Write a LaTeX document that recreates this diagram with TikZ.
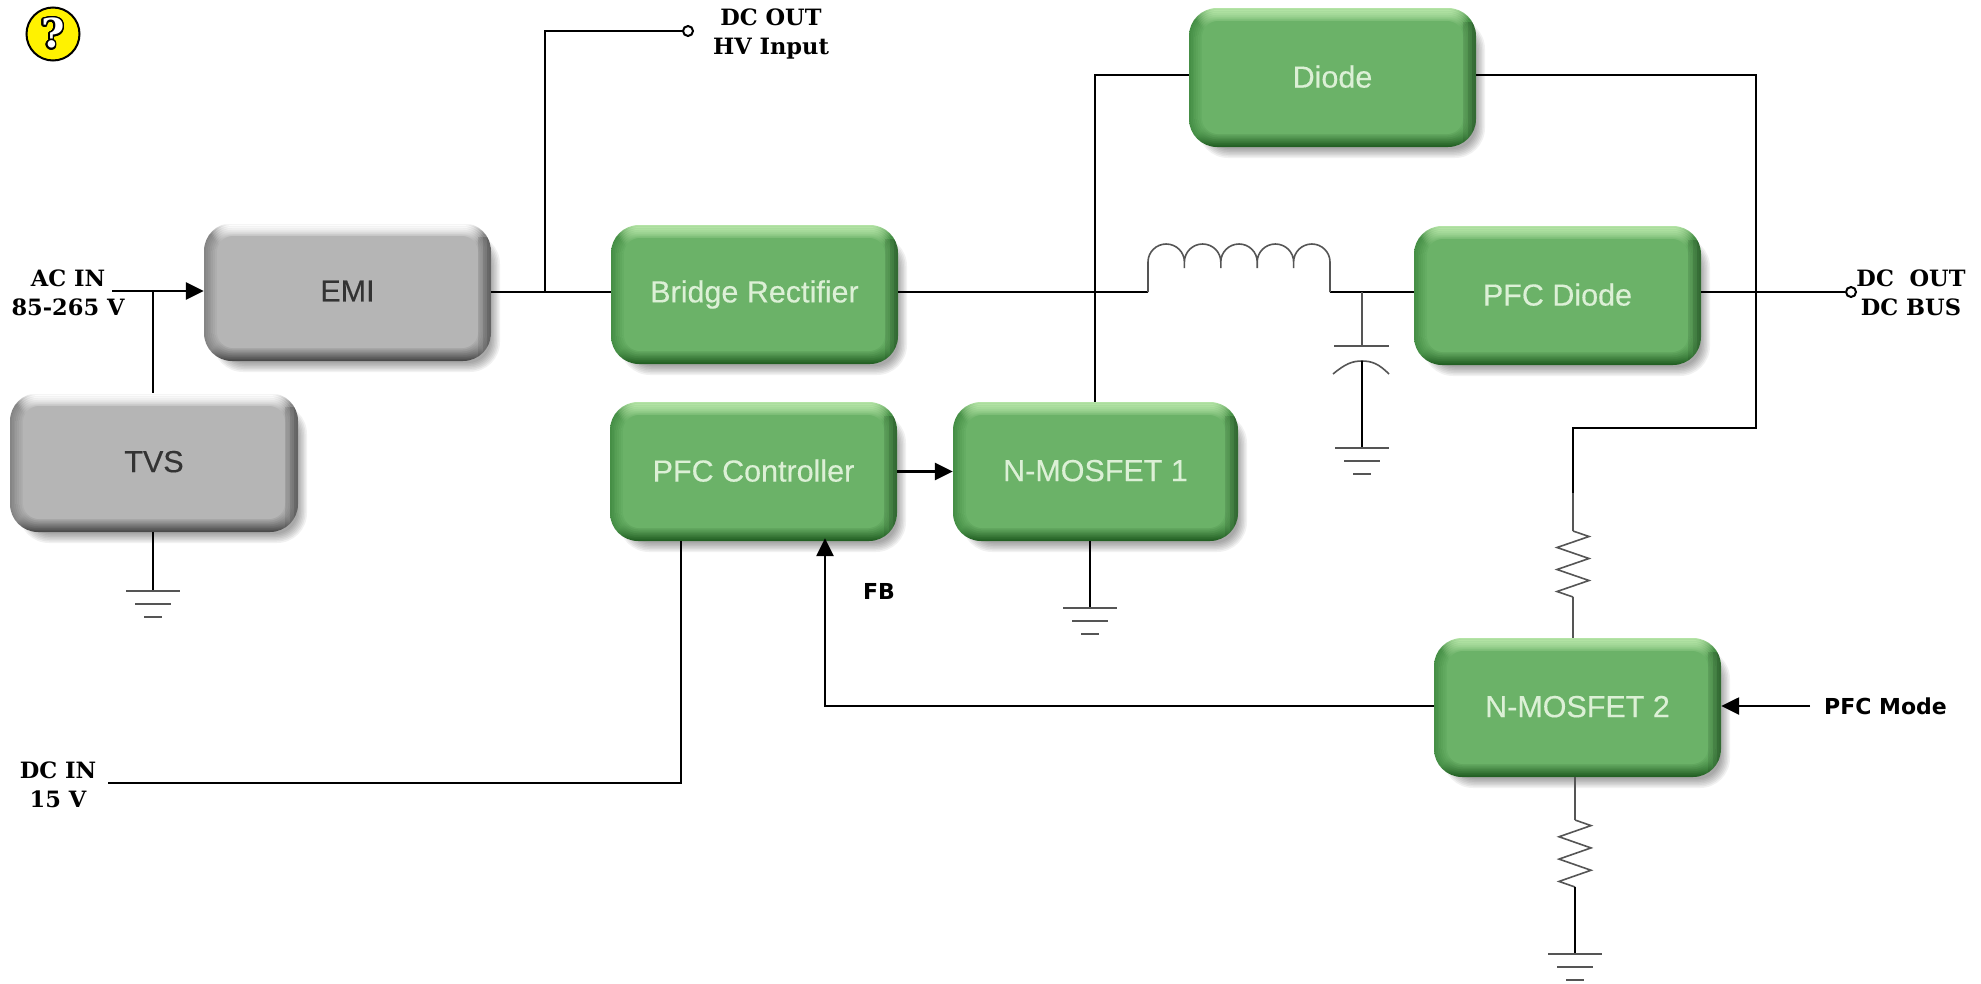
\documentclass[tikz,border=0pt]{standalone}
\usepackage{fontspec}
\setmainfont{Liberation Sans}[FakeBold=0.35]
\newfontfamily\serifb{DejaVu Serif}[BoldFont={DejaVu Serif Bold}]
\newfontfamily\sansb{DejaVu Sans}[BoldFont={DejaVu Sans Bold}]
\usepackage[copies]{contour}
\usetikzlibrary{arrows.meta,calc}
\definecolor{gFace}{HTML}{6BB268}
\definecolor{gHigh}{HTML}{B4E4A6}
\definecolor{gSide}{HTML}{468F46}
\definecolor{gBot}{HTML}{1F5A20}
\definecolor{gTxt}{HTML}{DCF0D6}
\definecolor{kFace}{HTML}{B5B5B5}
\definecolor{kHigh}{HTML}{FFFFFF}
\definecolor{kSide}{HTML}{858585}
\definecolor{kBot}{HTML}{444444}
\definecolor{kTxt}{HTML}{333333}
\definecolor{wireGrey}{HTML}{555555}
\colorlet{bevT}{white}\colorlet{bevS}{gray}\colorlet{bevB}{black}
\pgfdeclareverticalshading[bevT,bevS,bevB]{bev}{100bp}{color(0bp)=(bevB); color(25bp)=(bevB); color(29bp)=(bevS); color(71bp)=(bevS); color(75bp)=(bevT); color(100bp)=(bevT)}
\tikzset{
  boxtext/.style={inner sep=0pt,font=\fontsize{30.5}{34}\selectfont,text=txtC},
  wire/.style={draw=black,line width=2.6pt},
  thinwire/.style={draw=wireGrey,line width=1.6pt},
  arrowwire/.style={wire,-{Triangle[length=18pt,width=17pt]}},
  sidelabel/.style={inner sep=0pt,align=center,font=\serifb\bfseries\fontsize{22.5}{28.5}\selectfont,text=black},
  plainlabel/.style={inner sep=0pt,font=\sansb\bfseries\fontsize{22}{26}\selectfont,text=black},
  terminal/.style={circle,draw=black,line width=2pt,fill=white,minimum size=10pt,inner sep=0pt},
}
\newcommand{\bevbox}[7]{%
  \colorlet{faceC}{#6Face}\colorlet{highC}{#6High}\colorlet{sideC}{#6Side}\colorlet{botC}{#6Bot}\colorlet{txtC}{#6Txt}%
  \foreach \q in {0,...,6}{%
    \pgfmathsetmacro\gr{\q*1.5}\pgfmathsetmacro\rr{30-\q*1.2}%
    \fill[black,opacity=0.055,rounded corners=\rr pt] ({#2+12+\gr-3},{#3+14+\gr-3}) rectangle ({#4+9-\gr},{#5+11-\gr});
  }%
  \foreach \k in {0,...,6}{%
    \pgfmathsetmacro\ins{\k*1.9}\pgfmathsetmacro\rr{28-\k*1.7}%
    \pgfmathtruncatemacro\pa{\k*\k*100/49}\pgfmathtruncatemacro\pb{\k*100/7}%
    \colorlet{bevT}{faceC!\pa!highC}\colorlet{bevS}{faceC!\pb!sideC}\colorlet{bevB}{faceC!\pb!botC}%
    \path[shading=bev,rounded corners=\rr pt] ({#2+\ins},{#3+\ins}) rectangle ({#4-\ins},{#5-\ins});
  }%
  \begin{scope}
    \clip[rounded corners=28pt] (#2,#3) rectangle (#4,#5);
    \foreach \s in {4,8,13}{%
      \fill[black,opacity=0.09] ({#4-\s},{#3+14}) rectangle (#4,#5);
    }
  \end{scope}
  \fill[faceC,rounded corners=16pt] ({#2+13},{#3+13}) rectangle ({#4-13},{#5-13});
  \pgfmathsetmacro\bw{#4-#2}\pgfmathsetmacro\bh{#5-#3}%
  \node[boxtext,minimum width=\bw pt,minimum height=\bh pt] (#1) at ({(#2+#4)/2},{(#3+#5)/2}) {\raisebox{2pt}{#7}};
}
\newcommand{\gnd}[2]{%
  \draw[thinwire] ({#1-27},#2) -- ({#1+27},#2);
  \draw[thinwire] ({#1-18},{#2+13}) -- ({#1+18},{#2+13});
  \draw[thinwire] ({#1-9},{#2+26}) -- ({#1+9},{#2+26});
}
\newcommand{\zigzag}[3]{%
  \draw[thinwire,line join=miter] (#1,#2)
    -- ({#1+16},{#2+(#3-#2)/12}) -- ({#1-16},{#2+3*(#3-#2)/12})
    -- ({#1+16},{#2+5*(#3-#2)/12}) -- ({#1-16},{#2+7*(#3-#2)/12})
    -- ({#1+16},{#2+9*(#3-#2)/12}) -- ({#1-16},{#2+11*(#3-#2)/12})
    -- (#1,#3);
}
\begin{document}
\begin{tikzpicture}[x=1pt,y=-1pt]
\useasboundingbox (0,0) rectangle (1981,983);
\fill[white] (0,0) rectangle (1981,983);

% help icon
\node[circle,draw=black,line width=2pt,fill=yellow,minimum size=53pt,inner sep=0pt] (help) at (53,34) {};
\node[inner sep=0pt,text=white,font=\serifb\bfseries\fontsize{40}{40}\selectfont] at (help) {\contourlength{1.5pt}\contournumber{24}\contour{black}{?}};

% wires behind boxes
\coordinate (acin) at (112,291);
\coordinate (acj) at (153,291);
\coordinate (hvj) at (545,291);
\coordinate (hvk) at (545,31);
\node[terminal] (hvout) at (688,31) {};
\coordinate (dcin) at (108,783);
\coordinate (dck) at (681,783);
\node[terminal] (busout) at (1851,292) {};
\coordinate (dioL) at (1095,75);
\coordinate (dioR) at (1756,75);
\coordinate (dioR2) at (1756,428);
\coordinate (r1k) at (1573,428);
\coordinate (r1a) at (1573,531);
\coordinate (r1b) at (1573,597);
\coordinate (r2a) at (1575,820);
\coordinate (r2b) at (1575,887);
\coordinate (fbk) at (825,706);
\coordinate (modeA) at (1810,706);
\coordinate (l1a) at (1148,292);
\coordinate (l1b) at (1330,292);
\coordinate (capj) at (1362,292);
\coordinate (capt) at (1362,346);
\coordinate (capm) at (1362,361);
\coordinate (capg) at (1362,448);

\bevbox{emi}{204}{223}{491}{361}{k}{EMI}
\bevbox{tvs}{10}{393}{298}{532}{k}{TVS}
\bevbox{bridge}{611}{225}{898}{364}{g}{Bridge Rectifier}
\bevbox{ctrl}{610}{402}{897}{541}{g}{PFC Controller}
\bevbox{mos1}{953}{402}{1238}{541}{g}{N-MOSFET 1}
\bevbox{diode}{1189}{8}{1476}{147}{g}{Diode}
\bevbox{pfcd}{1414}{226}{1701}{365}{g}{PFC Diode}
\bevbox{mos2}{1434}{638}{1721}{777}{g}{N-MOSFET 2}

% connectors
\draw[arrowwire] (acin) -- (acin -| emi.west);
\draw[wire] (acj) -- (acj |- tvs.north);
\draw[wire] (acj |- tvs.south) -- (153,591);
\draw[wire] (emi.east) -- (emi.east -| bridge.west);
\draw[wire] (hvj) -- (hvk) -- (hvout.west);
\draw[wire] (bridge.east |- l1a) -- (l1a);
\draw[wire] (l1b) -- (pfcd.west |- l1b);
\draw[wire] (pfcd.east |- busout) -- (busout.west);
\draw[thinwire] (l1a) -- (1148,262)
  arc[start angle=180,end angle=360,x radius=18.2,y radius=18]
  -- ++(0,6) -- ++(0,-6)
  arc[start angle=180,end angle=360,x radius=18.2,y radius=18]
  -- ++(0,6) -- ++(0,-6)
  arc[start angle=180,end angle=360,x radius=18.2,y radius=18]
  -- ++(0,6) -- ++(0,-6)
  arc[start angle=180,end angle=360,x radius=18.2,y radius=18]
  -- ++(0,6) -- ++(0,-6)
  arc[start angle=180,end angle=360,x radius=18.2,y radius=18]
  -- (l1b);
\draw[thinwire] (capj) -- (capt);
\draw[thinwire] (1334,346) -- (1389,346);
\draw[thinwire] (1333,374) .. controls (1345,364) and (1352,361) .. (capm) .. controls (1372,361) and (1379,364) .. (1389,374);
\draw[wire,line width=1.8pt] (capm) -- (capg);
\gnd{1362}{448}
\draw[wire] (diode.west |- dioL) -- (dioL) -- (dioL |- mos1.north);
\draw[wire] (diode.east |- dioR) -- (dioR) -- (dioR2) -- (r1k) -- (1573,493);
\draw[thinwire] (1573,493) -- (r1a);
\zigzag{1573}{531}{597}
\draw[thinwire] (r1b) -- (r1b |- mos2.north);
\draw[thinwire] (r2a |- mos2.south) -- (r2a);
\zigzag{1575}{820}{887}
\draw[wire,line width=1.8pt] (r2b) -- (1575,954);
\gnd{1575}{954}
\draw[arrowwire] (ctrl.east |- mos1.west) -- (mos1.west);
\draw[wire] (1090,541) -- (1090,608);
\gnd{1090}{608}
\gnd{153}{591}
\draw[arrowwire,shorten >=-3pt] (mos2.west |- fbk) -- (fbk) -- (fbk |- ctrl.south);
\draw[arrowwire] (modeA) -- (mos2.east |- modeA);
\draw[wire] (dcin) -- (dck) -- (dck |- ctrl.south);

% labels
\node[sidelabel] (lac) at (68,293) {AC IN\\85-265 V};
\node[sidelabel] (ldci) at (58,785) {DC IN\\15 V};
\node[sidelabel] (lhv) at (771,34) {DC OUT\\HV Input};
\node[sidelabel] (lbus) at (1911,293) {DC\ \ OUT\\DC BUS};
\node[plainlabel] (lfb) at (879,591) {FB};
\node[plainlabel,anchor=west] (lmode) at (1824,706) {PFC Mode};
\end{tikzpicture}
\end{document}
